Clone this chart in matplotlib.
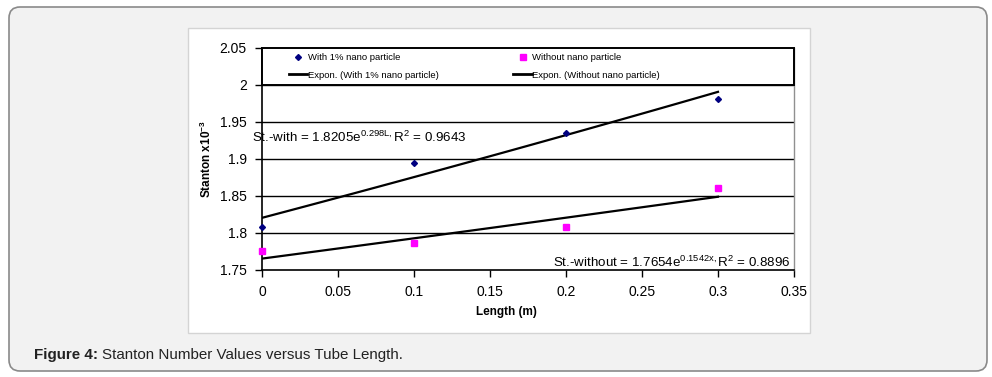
import numpy as np
import matplotlib
matplotlib.use("Agg")
import matplotlib.pyplot as plt
from matplotlib.patches import FancyBboxPatch, Rectangle
from matplotlib.transforms import IdentityTransform
from matplotlib.lines import Line2D

plt.rcParams['font.family'] = ['Liberation Sans', 'DejaVu Sans']
plt.rcParams['mathtext.fontset'] = 'custom'
plt.rcParams['mathtext.rm'] = 'Liberation Sans'
plt.rcParams['mathtext.it'] = 'Liberation Sans'

# Data
length = [0.0, 0.1, 0.2, 0.3]
st_with = [1.808, 1.895, 1.935, 1.981]
st_without = [1.776, 1.786, 1.808, 1.861]
# exponential trendline coefficients (from the chart annotations)
a_with, b_with = 1.8205, 0.298
a_without, b_without = 1.7654, 0.1542
xticks = [0, 0.05, 0.1, 0.15, 0.2, 0.25, 0.3, 0.35]
yticks = [1.75, 1.8, 1.85, 1.9, 1.95, 2.0, 2.05]
xtick_labels = ['0', '0.05', '0.1', '0.15', '0.2', '0.25', '0.3', '0.35']
ytick_labels = ['1.75', '1.8', '1.85', '1.9', '1.95', '2', '2.05']

W, H = 992, 377
fig = plt.figure(figsize=(W / 100, H / 100), dpi=100)
fig.patch.set_facecolor('white')

# outer rounded panel (pixel coords, origin bottom-left)
outer = FancyBboxPatch((9, 6), 978, 364, boxstyle="round,pad=0,rounding_size=11",
                       transform=IdentityTransform(), facecolor='#f2f2f2',
                       edgecolor='#8a8a8a', linewidth=1.2, zorder=-10)
fig.patches.append(outer)
# white chart area
chart = Rectangle((188, H - 333), 622, 305, transform=IdentityTransform(),
                  facecolor='white', edgecolor='#d4d4d4', linewidth=1, zorder=-9)
fig.patches.append(chart)

L, R, T, B = 262, 794, 48, 270
ax = fig.add_axes([L / W, 1 - B / H, (R - L) / W, (B - T) / H])
ax.set_facecolor('white')

ax.set_xlim(0, 0.35)
ax.set_ylim(1.75, 2.05)
ax.set_xticks(xticks)
ax.set_xticklabels(xtick_labels)
ax.set_yticks(yticks)
ax.set_yticklabels(ytick_labels)
ax.tick_params(axis='both', direction='out', length=5, width=1, color='black',
               labelsize=10, pad=6)
for y in yticks[1:-1]:
    ax.axhline(y, color='black', linewidth=1, zorder=1)

for s in ['left', 'bottom']:
    ax.spines[s].set_color('black')
    ax.spines[s].set_linewidth(1.2)
ax.spines['right'].set_color('#909090')
ax.spines['right'].set_linewidth(1)
ax.spines['top'].set_visible(False)

xs = np.linspace(0, 0.3, 100)
ax.plot(xs, a_with * np.exp(b_with * xs), color='black', lw=1.6, zorder=3)
ax.plot(xs, a_without * np.exp(b_without * xs), color='black', lw=1.6, zorder=3)
ax.plot(length, st_with, linestyle='none', marker='D', markersize=3.0,
        color='#000080', zorder=4, clip_on=False)
ax.plot(length, st_without, linestyle='none', marker='s', markersize=4.0,
        color='#ff00ff', zorder=4, clip_on=False)

# legend band between 2.0 and 2.05
leg_bottom = (2.0 - 1.75) / 0.3
band = Rectangle((0, leg_bottom), 1, 1 - leg_bottom, transform=ax.transAxes,
                 facecolor='white', edgecolor='black', linewidth=1.4,
                 zorder=5, clip_on=False)
ax.add_patch(band)

handles = [
    Line2D([], [], linestyle='none', marker='D', markersize=3, color='#000080'),
    Line2D([], [], color='black', lw=2),
    Line2D([], [], linestyle='none', marker='s', markersize=4, color='#ff00ff'),
    Line2D([], [], color='black', lw=2),
]
labels = ['With 1% nano particle', 'Expon. (With 1% nano particle)',
          'Without nano particle', 'Expon. (Without nano particle)']
leg = ax.legend(handles, labels, ncol=2, loc='center left',
                bbox_to_anchor=((289 - L) / (R - L), (leg_bottom + 1) / 2),
                fontsize=6.8, frameon=False, borderaxespad=0, borderpad=0,
                handlelength=1.95, handletextpad=0.05, labelspacing=0.9,
                columnspacing=7.9)
leg.set_zorder(6)

ax.text(-0.0066, 1.9297,
        r"St.-with = 1.8205e$\mathregular{^{0.298L,}}$R$\mathregular{^{2}}$ = 0.9643",
        fontsize=9.6, ha='left', va='center', zorder=6)
ax.text(0.1914, 1.7608,
        r"St.-without = 1.7654e$\mathregular{^{0.1542x,}}$R$\mathregular{^{2}}$ = 0.8896",
        fontsize=9.6, ha='left', va='center', zorder=6)

ax.set_ylabel(r"Stanton x10$\mathregular{^{-3}}$", fontsize=8.5, fontweight='bold')
ax.yaxis.set_label_coords((214 - L) / (R - L), 0.5)
ax.set_xlabel("Length (m)", fontsize=8.5, fontweight='bold')
ax.xaxis.set_label_coords((506 - L) / (R - L), (B - 306) / (B - T))

t1 = fig.text(34 / W, 1 - 355 / H, "Figure 4:", fontsize=10.9, fontweight='bold',
              ha='left', va='center', color='#222222')
fig.canvas.draw()
bb = t1.get_window_extent()
fig.text((bb.x1 + 4) / W, 1 - 355 / H, "Stanton Number Values versus Tube Length.",
         fontsize=10.9, ha='left', va='center', color='#222222')

fig.savefig('out.png', dpi=100)
